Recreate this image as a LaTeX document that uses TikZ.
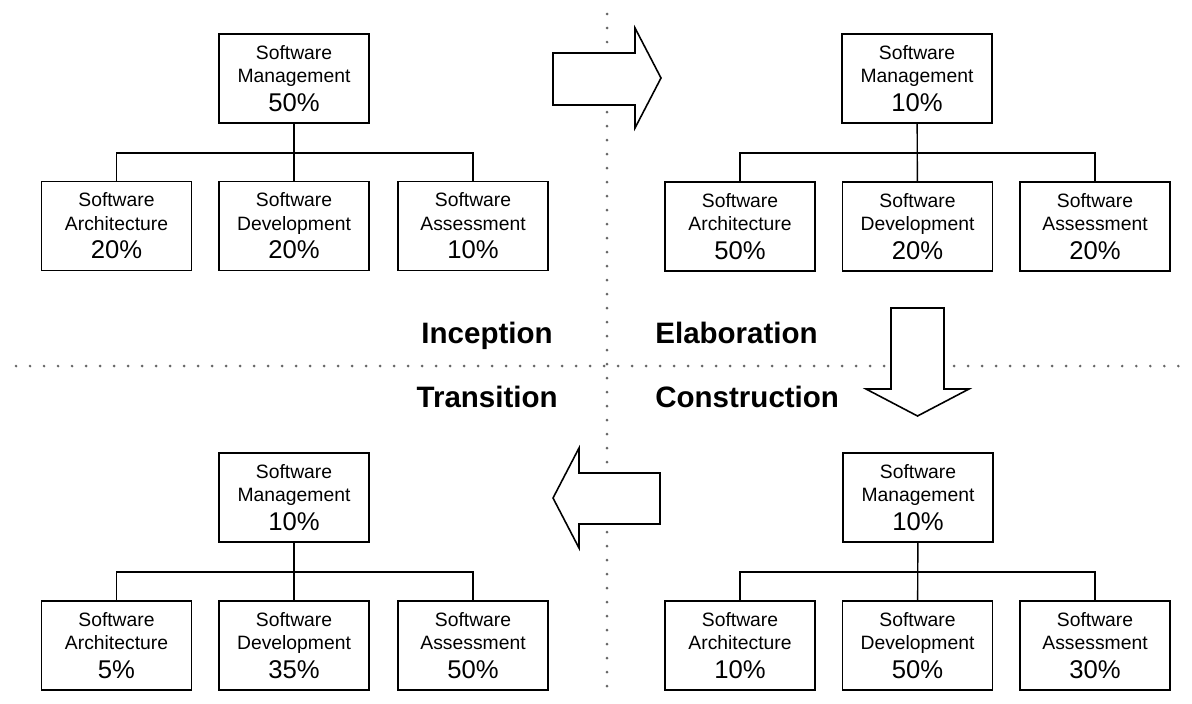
\documentclass[tikz,border=0pt]{standalone}
\usepackage{fontspec}
\setmainfont{Liberation Sans}
\usepackage{tikz}

\newcommand{\boxfont}{\fontsize{11}{13.3}\selectfont}
\newcommand{\pctfont}{\fontsize{14.6}{16.5}\selectfont}
\newcommand{\phasefont}{\fontsize{16.8}{20}\selectfont\bfseries}

\begin{document}
\begin{tikzpicture}[x=0.02cm, y=-0.02cm,
  unit/.style={draw, line width=0.9pt, fill=white, minimum width=3cm, minimum height=1.78cm, inner sep=0pt, align=center, font=\boxfont},
  link/.style={line width=0.8pt},
  sep/.style={black!60, line width=1.7pt, line cap=round, dash pattern=on 0pt off 7.97pt},
  blockarrow/.style={draw, line width=0.9pt, fill=white, line join=miter},
  phase/.style={inner sep=0pt, font=\phasefont}]
\useasboundingbox (0,0) rectangle (1192,703);

% quadrant separators
\draw[sep] (16,366) -- (1185,366);
\draw[sep] (607,14) -- (607,695);

% Inception
\node[unit] (im) at (294,78.5) {Software\\Management\\[3pt]{\pctfont 50\%}};
\node[unit] (ia) at (116.5,226) {Software\\Architecture\\[3pt]{\pctfont 20\%}};
\node[unit] (id) at (294,226) {Software\\Development\\[3pt]{\pctfont 20\%}};
\node[unit] (is) at (473,226) {Software\\Assessment\\[3pt]{\pctfont 10\%}};
\coordinate (ib) at (294,153);
\draw[link] (im) -- (id);
\draw[link] (ia) |- (ib) -| (is);

% Elaboration
\node[unit] (em) at (917,78.5) {Software\\Management\\[3pt]{\pctfont 10\%}};
\node[unit] (ea) at (740,226.5) {Software\\Architecture\\[3pt]{\pctfont 50\%}};
\node[unit] (ed) at (917.5,226.5) {Software\\Development\\[3pt]{\pctfont 20\%}};
\node[unit] (es) at (1095,226.5) {Software\\Assessment\\[3pt]{\pctfont 20\%}};
\coordinate (eb) at (917,153);
\draw[link] (em) -- (ed);
\draw[link] (ea) |- (eb) -| (es);

% Construction
\node[unit] (cm) at (918,497.5) {Software\\Management\\[3pt]{\pctfont 10\%}};
\node[unit] (ca) at (740,645.5) {Software\\Architecture\\[3pt]{\pctfont 10\%}};
\node[unit] (cd) at (917.5,645.5) {Software\\Development\\[3pt]{\pctfont 50\%}};
\node[unit] (cs) at (1095,645.5) {Software\\Assessment\\[3pt]{\pctfont 30\%}};
\coordinate (cb) at (918,572);
\draw[link] (cm) -- (cd);
\draw[link] (ca) |- (cb) -| (cs);

% Transition
\node[unit] (tm) at (294,497.5) {Software\\Management\\[3pt]{\pctfont 10\%}};
\node[unit] (ta) at (116.5,645.5) {Software\\Architecture\\[3pt]{\pctfont 5\%}};
\node[unit] (td) at (294,645.5) {Software\\Development\\[3pt]{\pctfont 35\%}};
\node[unit] (ts) at (473,645.5) {Software\\Assessment\\[3pt]{\pctfont 50\%}};
\coordinate (tb) at (294,572);
\draw[link] (tm) -- (td);
\draw[link] (ta) |- (tb) -| (ts);

% phase arrows
\draw[blockarrow] (553,53) -- (635,53) -- (635,28) -- (661,78) -- (635,128) -- (635,105) -- (553,105) -- cycle;
\draw[blockarrow] (891,308) -- (944,308) -- (944,389) -- (969,389) -- (917.5,416) -- (866,389) -- (891,389) -- cycle;
\draw[blockarrow] (660,473) -- (579,473) -- (579,448) -- (553,498) -- (579,548) -- (579,524) -- (660,524) -- cycle;

% phase names
\node[phase, anchor=base east] (inc) at (553,343) {Inception};
\node[phase, anchor=base west] (ela) at (655,343) {Elaboration};
\node[phase, anchor=base east] (tra) at (558,407) {Transition};
\node[phase, anchor=base west] (con) at (655,407) {Construction};

\end{tikzpicture}
\end{document}
